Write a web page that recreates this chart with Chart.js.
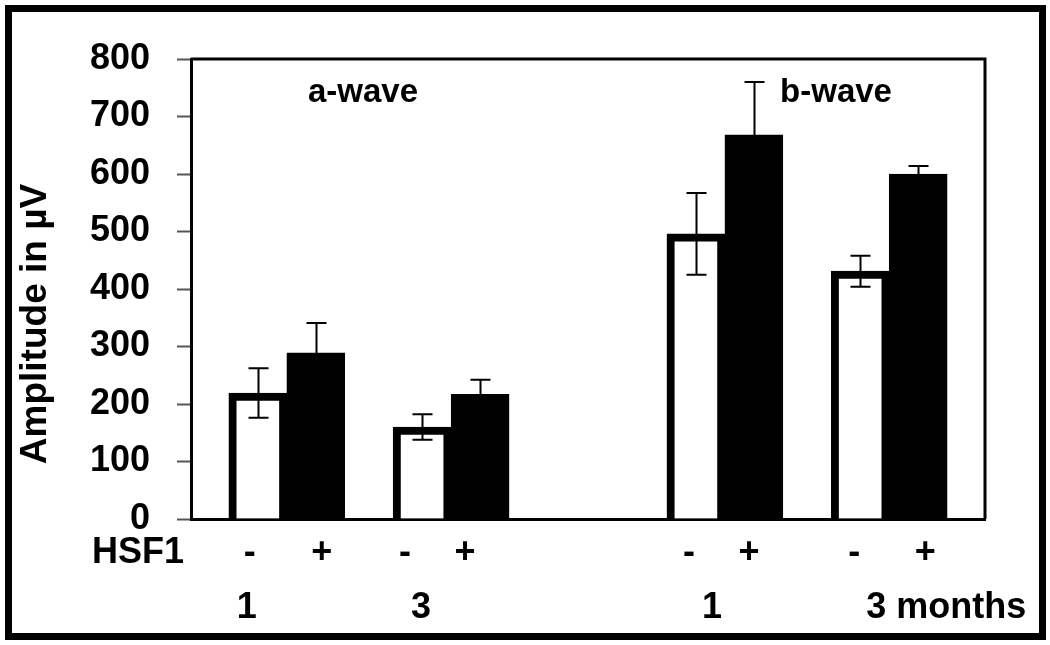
<!DOCTYPE html>
<html>
  <head>
    <title>ERG amplitude HSF1</title>
    <script src="https://cdn.jsdelivr.net/npm/chart.js"></script>
    <style>
      body { margin: 0; background: #fff; }
      .wrap { position: relative; width: 1050px; height: 645px; }
      canvas { display: block; }
      .frame { position: absolute; left: 5px; top: 5px; width: 1041px; height: 635px;
               border: 7px solid #000; box-sizing: border-box; pointer-events: none; }
    </style>
  </head>
  <body>
    <div class="wrap">
      <canvas id="ergChart" width="1050" height="645"></canvas>
      <div class="frame"></div>
    </div>
    <script>
      // values (amplitude in µV)
      const months = ['1', '3', '1', '3 months'];
      const waves = ['a-wave', 'b-wave'];
      const hsfMinus = [219, 160, 496, 431];
      const hsfMinusErr = [43, 22, 71, 27];
      const hsfPlus = [289, 217, 668, 600];
      const hsfPlusErr = [52, 25, 92, 14];
      const signs = ['-', '+'];

      // layout: 29 narrow slots, the four groups sit on these ones
      const slotCount = 29;
      const groupSlot = [3, 9, 19, 25];
      const FONT = '"Liberation Sans", Arial, sans-serif';

      const slotLabels = Array.from({ length: slotCount }, (_, i) => {
        const g = groupSlot.indexOf(i);
        return g >= 0 ? months[g] : '';
      });
      function toSlots(values) {
        const out = new Array(slotCount).fill(null);
        groupSlot.forEach((s, i) => { out[s] = values[i]; });
        return out;
      }

      // hand placed text boxes (offsets from the group centre, px)
      const signDx = [[-37, -46, -36, -35], [35, 14, 24, 36]];
      const monthDx = [-40, -30, -13, 57];
      const waveDx = [-6, 29];

      const annotations = {
        id: 'annotations',
        afterDatasetsDraw(chart) {
          const { ctx, chartArea: a, scales: { y } } = chart;
          ctx.save();
          ctx.strokeStyle = '#000';
          ctx.lineWidth = 2;
          [[hsfMinus, hsfMinusErr], [hsfPlus, hsfPlusErr]].forEach(([vals, errs], d) => {
            const meta = chart.getDatasetMeta(d);
            groupSlot.forEach((slot, i) => {
              const bx = Math.round(meta.data[slot].x) + 0.5;
              const top = y.getPixelForValue(vals[i] + errs[i]);
              const bot = y.getPixelForValue(vals[i] - errs[i]);
              ctx.beginPath();
              ctx.moveTo(bx, top); ctx.lineTo(bx, bot);
              ctx.moveTo(bx - 10, top); ctx.lineTo(bx + 10, top);
              ctx.moveTo(bx - 10, bot); ctx.lineTo(bx + 10, bot);
              ctx.stroke();
            });
          });
          // top and right side of the plot box
          ctx.lineWidth = 3;
          ctx.beginPath();
          ctx.moveTo(a.left, a.top);
          ctx.lineTo(a.right, a.top);
          ctx.lineTo(a.right, a.bottom);
          ctx.stroke();
          ctx.restore();
        },
        afterDraw(chart) {
          const { ctx, scales: { x } } = chart;
          const gx = groupSlot.map(s => x.getPixelForValue(s));
          ctx.save();
          ctx.fillStyle = '#000';
          ctx.textAlign = 'center';
          ctx.textBaseline = 'alphabetic';

          ctx.font = `bold 33px ${FONT}`;
          ctx.fillText(waves[0], (gx[0] + gx[1]) / 2 + waveDx[0], 102);
          ctx.fillText(waves[1], (gx[2] + gx[3]) / 2 + waveDx[1], 102);

          ctx.font = `bold 36px ${FONT}`;
          ctx.fillText('HSF1', 138, 563);
          gx.forEach((c, i) => {
            ctx.fillText(signs[0], c + signDx[0][i], 563);
            ctx.fillText(signs[1], c + signDx[1][i], 563);
            ctx.fillText(months[i], c + monthDx[i], 618);
          });

          ctx.font = `bold 37px ${FONT}`;
          ctx.translate(36, 324);
          ctx.rotate(-Math.PI / 2);
          ctx.textBaseline = 'middle';
          ctx.fillText('Amplitude in µV', 0, 0);
          ctx.restore();
        }
      };

      new Chart(document.getElementById('ergChart'), {
        type: 'bar',
        data: {
          labels: slotLabels,
          datasets: [
            {
              label: 'HSF1 -',
              data: toSlots(hsfMinus),
              backgroundColor: '#fff',
              borderColor: '#000',
              borderWidth: 8,
              barThickness: 58
            },
            {
              label: 'HSF1 +',
              data: toSlots(hsfPlus),
              backgroundColor: '#000',
              borderColor: '#000',
              borderWidth: 8,
              barThickness: 58
            }
          ]
        },
        options: {
          responsive: false,
          animation: false,
          layout: { padding: { top: 59, right: 65, left: 0, bottom: 0 } },
          plugins: {
            legend: { display: false },
            tooltip: { enabled: false }
          },
          scales: {
            x: {
              grid: { display: false },
              ticks: { display: false },
              border: { display: true, color: '#000', width: 3 },
              afterFit(scale) { scale.height = 126; }
            },
            y: {
              min: 0,
              max: 800,
              ticks: {
                stepSize: 100,
                color: '#000',
                padding: 27,
                font: { family: FONT, size: 36, weight: 'bold' }
              },
              grid: {
                drawOnChartArea: false,
                drawTicks: true,
                tickLength: 14,
                tickWidth: 2,
                tickColor: '#555'
              },
              border: { display: true, color: '#000', width: 3 },
              afterFit(scale) { scale.width = 191; }
            }
          }
        },
        plugins: [annotations]
      });
    </script>
  </body>
</html>
